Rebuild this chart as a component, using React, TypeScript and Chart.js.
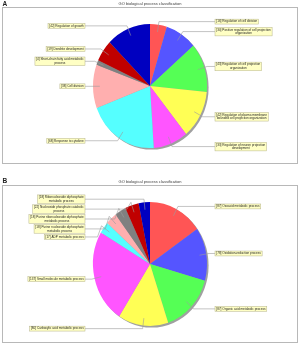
import React, { useEffect, useRef } from "react";
import { Chart, registerables } from "chart.js";

Chart.register(...registerables);

// ---------- data ----------
const chartTitle = "GO biological process classification";

const categoriesA = [
  "Regulation of cell division",
  "Positive regulation of cell projection organization",
  "Regulation of cell projection organization",
  "Regulation of plasma membrane bounded cell projection organization",
  "Regulation of neuron projection development",
  "Response to cytokine",
  "Cell division",
  "Short-chain fatty acid metabolic process",
  "Dendrite development",
  "Regulation of growth",
];
const valuesA = [16, 30, 43, 42, 33, 68, 38, 4, 19, 42];

const categoriesB = [
  "Oxoacid metabolic process",
  "Oxidation-reduction process",
  "Organic acid metabolic process",
  "Carboxylic acid metabolic process",
  "Small molecule metabolic process",
  "ADP metabolic process",
  "Purine nucleoside diphosphate metabolic process",
  "Purine ribonucleoside diphosphate metabolic process",
  "Nucleoside phosphate catabolic process",
  "Ribonucleoside diphosphate metabolic process",
];
const valuesB = [87, 78, 87, 80, 137, 17, 18, 18, 22, 18];

const sliceColors = [
  "#FF5555",
  "#5555FF",
  "#55FF55",
  "#FFFF55",
  "#FF55FF",
  "#55FFFF",
  "#FFAFAF",
  "#808080",
  "#C00000",
  "#0000C0",
];

// ---------- styling ----------
const LABEL_FONT = 3.1;
const LABEL_LH = 3.7;
const LABEL_PADX = 1.3;
const LABEL_PADY = 0.6;
const LABEL_MAXW = 55;
const FONT_FAMILY = '"Liberation Sans", Arial, sans-serif';

function wrapText(ctx: CanvasRenderingContext2D, text: string, maxW: number) {
  const words = text.split(" ");
  const lines: string[] = [];
  let cur = "";
  for (const w of words) {
    const test = cur ? cur + " " + w : w;
    if (ctx.measureText(test).width > maxW && cur) {
      lines.push(cur);
      cur = w;
    } else {
      cur = test;
    }
  }
  if (cur) lines.push(cur);
  return lines;
}

const framePlugin = {
  id: "frame",
  beforeDraw(chart: any, _args: any, opts: any) {
    const ctx = chart.ctx as CanvasRenderingContext2D;
    ctx.save();
    ctx.fillStyle = "#ffffff";
    ctx.fillRect(0, 0, chart.width, chart.height);
    ctx.strokeStyle = "#b8b8b8";
    ctx.lineWidth = 1;
    ctx.strokeRect(2.5, opts.boxTop + 0.5, chart.width - 5, opts.boxBottom - opts.boxTop);
    ctx.fillStyle = "#202020";
    ctx.font = `bold 6.5px ${FONT_FAMILY}`;
    ctx.textAlign = "left";
    ctx.textBaseline = "middle";
    ctx.fillText(opts.letter, 2.5, opts.letterY);
    ctx.fillStyle = "#404040";
    ctx.font = `4px ${FONT_FAMILY}`;
    ctx.textAlign = "center";
    ctx.fillText(opts.title, chart.width / 2, opts.titleY);
    ctx.restore();
  },
};

const stretchPlugin = {
  id: "stretch",
  beforeDatasetsDraw(chart: any, _args: any, opts: any) {
    const arc = chart.getDatasetMeta(0).data[0] as any;
    const { x, y, outerRadius } = arc;
    const ctx = chart.ctx as CanvasRenderingContext2D;
    ctx.save();
    ctx.translate(x, y);
    ctx.scale(1, opts.sy);
    ctx.translate(-x, -y);
    ctx.fillStyle = "#a0a0a0";
    ctx.beginPath();
    ctx.arc(x + 1.6, y + 1.6 / opts.sy, outerRadius, 0, Math.PI * 2);
    ctx.fill();
  },
  afterDatasetsDraw(chart: any) {
    chart.ctx.restore();
  },
};

const labelPlugin = {
  id: "pieLabels",
  afterDraw(chart: any, _args: any, opts: any) {
    const ctx = chart.ctx as CanvasRenderingContext2D;
    const arcs = chart.getDatasetMeta(0).data as any[];
    if (!arcs.length) return;
    const cx = arcs[0].x;
    const cy = arcs[0].y;
    const rx = arcs[0].outerRadius;
    const ry = rx * opts.sy;
    const values: number[] = chart.data.datasets[0].data;
    const names: string[] = chart.data.labels;
    ctx.save();
    ctx.font = `${LABEL_FONT}px ${FONT_FAMILY}`;
    const items = arcs.map((arc, i) => {
      const mid = (arc.startAngle + arc.endAngle) / 2;
      const c = Math.cos(mid);
      const s = Math.sin(mid);
      const lines = wrapText(ctx, `[${values[i]}] ${names[i]}`, LABEL_MAXW);
      const w = Math.max(...lines.map((l) => ctx.measureText(l).width)) + 2 * LABEL_PADX;
      const h = lines.length * LABEL_LH + 2 * LABEL_PADY;
      return {
        c,
        s,
        lines,
        w,
        h,
        right: c >= 0,
        y: cy + 1.05 * ry * s,
      };
    });
    for (const side of [true, false]) {
      const group = items.filter((it) => it.right === side).sort((a, b) => a.y - b.y);
      let prevBottom = -Infinity;
      for (const it of group) {
        const top = Math.max(it.y - it.h / 2, prevBottom + 1.3);
        it.y = top + it.h / 2;
        prevBottom = top + it.h;
      }
    }
    for (const it of items) {
      const ax = cx + 0.88 * rx * it.c;
      const ay = cy + 0.88 * ry * it.s;
      const ex = cx + 1.05 * rx * it.c;
      const ey = cy + 1.05 * ry * it.s;
      const dir = it.right ? 1 : -1;
      const edgeX = it.right ? cx + 65 : cx - 65;
      const boxX = it.right ? edgeX : edgeX - it.w;
      ctx.strokeStyle = "#9c9c9c";
      ctx.lineWidth = 0.6;
      ctx.beginPath();
      ctx.moveTo(ax, ay);
      ctx.lineTo(ex, ey);
      if (Math.abs(ey - it.y) > 0.5) ctx.lineTo(ex + dir * 4, it.y);
      ctx.lineTo(edgeX, it.y);
      ctx.stroke();
      const boxY = it.y - it.h / 2;
      ctx.fillStyle = "#FFFFC4";
      ctx.fillRect(boxX, boxY, it.w, it.h);
      ctx.strokeStyle = "#B5B38C";
      ctx.lineWidth = 0.5;
      ctx.strokeRect(boxX, boxY, it.w, it.h);
      ctx.fillStyle = "#1e1e1e";
      ctx.textAlign = "center";
      ctx.textBaseline = "middle";
      it.lines.forEach((l, k) => {
        ctx.fillText(l, boxX + it.w / 2, boxY + LABEL_PADY + LABEL_LH * (k + 0.5));
      });
    }
    ctx.restore();
  },
};

type PanelProps = {
  letter: string;
  labels: string[];
  values: number[];
  top: number;
  height: number;
  padTop: number;
  padBottom: number;
  boxTop: number;
  boxBottom: number;
  titleY: number;
  letterY: number;
};

function PiePanel(p: PanelProps) {
  const ref = useRef<HTMLCanvasElement>(null);
  useEffect(() => {
    const chart = new Chart(ref.current as HTMLCanvasElement, {
      type: "pie",
      data: {
        labels: p.labels,
        datasets: [
          {
            data: p.values,
            backgroundColor: sliceColors,
            borderWidth: 0,
            hoverOffset: 0,
            offset: 0,
            clip: false as any,
          } as any,
        ],
      },
      options: {
        animation: false,
        responsive: true,
        maintainAspectRatio: false,
        events: [],
        layout: { padding: { top: p.padTop, bottom: p.padBottom, left: 0, right: 0 } },
        plugins: {
          legend: { display: false },
          tooltip: { enabled: false },
          frame: {
            boxTop: p.boxTop,
            boxBottom: p.boxBottom,
            title: chartTitle,
            letter: p.letter,
            titleY: p.titleY,
            letterY: p.letterY,
          },
          stretch: { sy: 1.088 },
          pieLabels: { sy: 1.088 },
        } as any,
      },
      plugins: [framePlugin, stretchPlugin, labelPlugin],
    });
    return () => chart.destroy();
  }, []);
  return (
    <div style={{ position: "absolute", left: 0, top: p.top, width: 300, height: p.height }}>
      <canvas ref={ref} />
    </div>
  );
}

export default function App() {
  return (
    <div
      style={{
        position: "absolute",
        left: 0,
        top: 0,
        width: 300,
        height: 343,
        background: "#ffffff",
        overflow: "hidden",
      }}
    >
      <PiePanel
        letter="A"
        labels={categoriesA}
        values={valuesA}
        top={0}
        height={170}
        padTop={29}
        padBottom={27}
        boxTop={7}
        boxBottom={163}
        titleY={4}
        letterY={4.2}
      />
      <PiePanel
        letter="B"
        labels={categoriesB}
        values={valuesB}
        top={170}
        height={173}
        padTop={37}
        padBottom={22}
        boxTop={15}
        boxBottom={172}
        titleY={11.7}
        letterY={10.8}
      />
    </div>
  );
}
